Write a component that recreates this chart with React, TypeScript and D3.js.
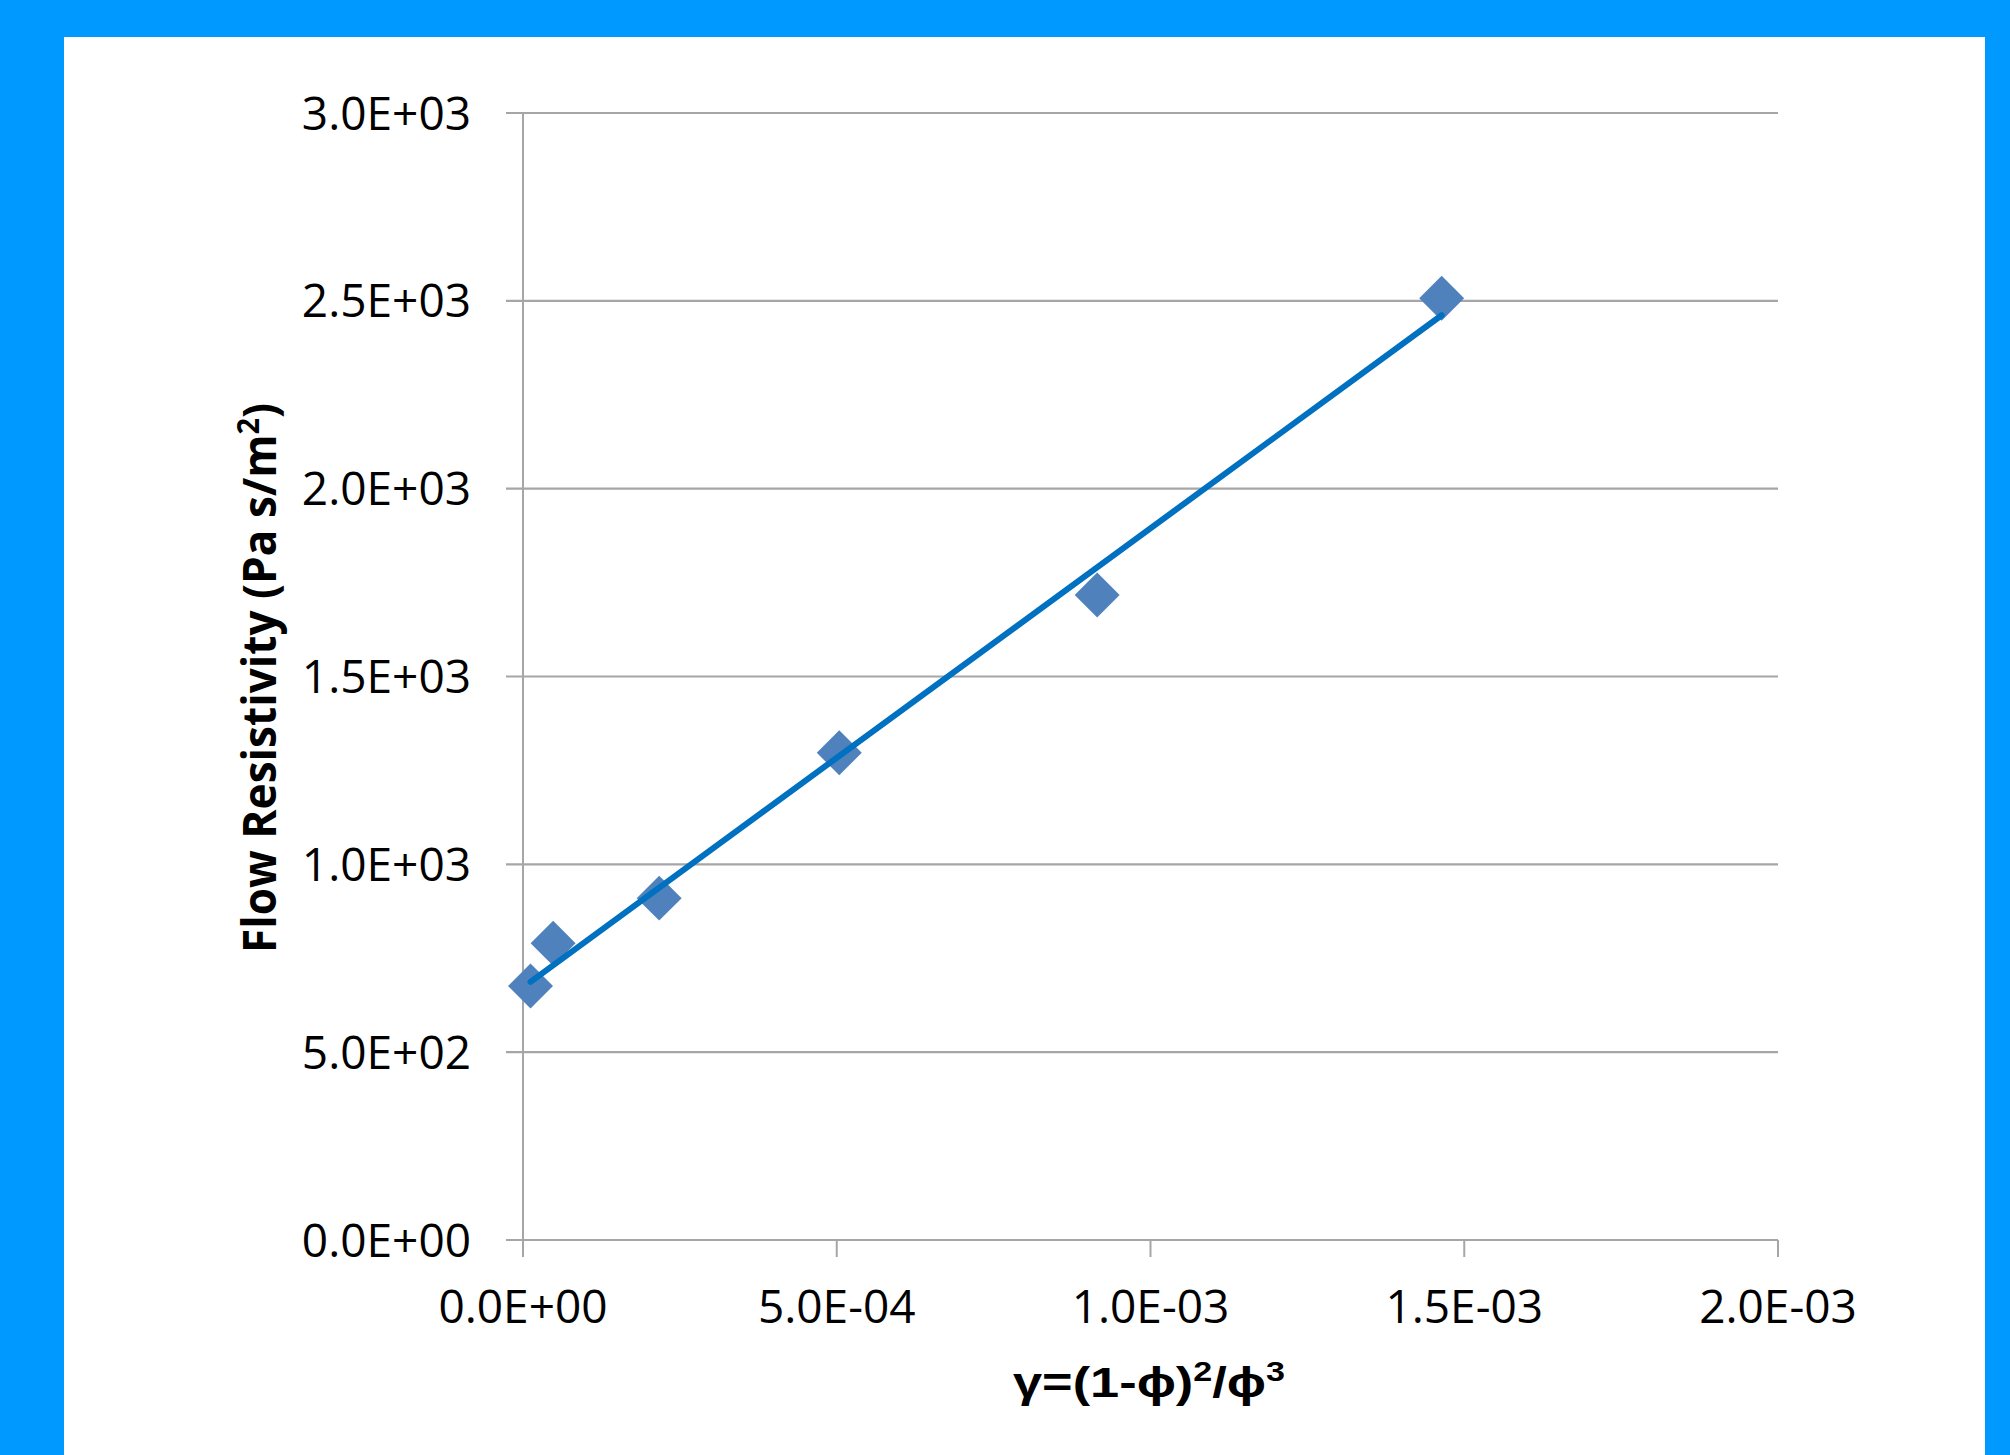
import React from "react";
import * as d3 from "d3";

const xValues = [0.000012, 0.000048, 0.000217, 0.000504, 0.000915, 0.001464];
const yValues = [676, 790, 910, 1297, 1717, 2507];
const xTicks = [0, 0.0005, 0.001, 0.0015, 0.002];
const xTickLabels = ["0.0E+00", "5.0E-04", "1.0E-03", "1.5E-03", "2.0E-03"];
const yTicks = [0, 500, 1000, 1500, 2000, 2500, 3000];
const yTickLabels = ["0.0E+00", "5.0E+02", "1.0E+03", "1.5E+03", "2.0E+03", "2.5E+03", "3.0E+03"];

const W = 2010;
const H = 1455;
const left = 523, right = 1778, top = 113, bottom = 1240;

export default function App() {
  const x = d3.scaleLinear().domain([0, 0.002]).range([left, right]);
  const y = d3.scaleLinear().domain([0, 3000]).range([bottom, top]);

  // least squares trendline
  const mx = d3.mean(xValues) as number;
  const my = d3.mean(yValues) as number;
  let sxy = 0, sxx = 0;
  xValues.forEach((v, i) => {
    sxy += (v - mx) * (yValues[i] - my);
    sxx += (v - mx) * (v - mx);
  });
  const slope = sxy / sxx;
  const intercept = my - slope * mx;
  const x0 = d3.min(xValues) as number;
  const x1 = d3.max(xValues) as number;
  const trend = d3.line<number>().x((d) => x(d)).y((d) => y(intercept + slope * d))([x0, x1]) as string;

  const diamond = d3.symbol().type(d3.symbolSquare).size(1010)() as string;
  const font = "'Open Sans', 'DejaVu Sans', sans-serif";
  const grid = "#A6A6A6";

  return (
    <svg width={W} height={H} style={{ position: "absolute", left: 0, top: 0 }}>
      <rect x={0} y={0} width={W} height={H} fill="#0099FF" />
      <rect x={64} y={37} width={1921} height={H - 37} fill="#FFFFFF" />
      {yTicks.map((t, i) => (
        <g key={"y" + i}>
          <line x1={left - 17} x2={right} y1={y(t)} y2={y(t)} stroke={grid} strokeWidth={2.2} />
          <text x={471} y={y(t)} dy="0.36em" textAnchor="end" fontFamily={font} fontSize={46} fill="#000">
            {yTickLabels[i]}
          </text>
        </g>
      ))}
      <line x1={left} x2={left} y1={top} y2={bottom + 17} stroke={grid} strokeWidth={2} />
      {xTicks.map((t, i) => (
        <g key={"x" + i}>
          <line x1={x(t)} x2={x(t)} y1={bottom} y2={bottom + 17} stroke={grid} strokeWidth={2} />
          <text x={x(t)} y={1323} textAnchor="middle" fontFamily={font} fontSize={46} fill="#000">
            {xTickLabels[i]}
          </text>
        </g>
      ))}
      {xValues.map((v, i) => (
        <path
          key={"p" + i}
          d={diamond}
          transform={`translate(${x(v)},${y(yValues[i])}) rotate(45)`}
          fill="#4F81BD"
        />
      ))}
      <path d={trend} stroke="#0070C0" strokeWidth={6} fill="none" strokeLinecap="round" />
      <text
        transform={`translate(276,678) rotate(-90)`}
        textAnchor="middle"
        fontFamily={font}
        fontWeight="bold"
        fontSize={46}
        fill="#000"
        textLength={550}
        lengthAdjust="spacingAndGlyphs"
      >
        Flow Resistivity (Pa s/m<tspan fontSize={30} dy={-17}>2</tspan><tspan dy={17}>)</tspan>
      </text>
      <text
        x={1149}
        y={1397}
        textAnchor="middle"
        fontFamily="'Liberation Sans', Arial, sans-serif"
        fontWeight="bold"
        fontSize={43}
        fill="#000"
        textLength={272}
        lengthAdjust="spacingAndGlyphs"
      >
        γ=(1-ϕ)<tspan fontSize={28} dy={-16}>2</tspan><tspan dy={16}>/ϕ</tspan><tspan fontSize={28} dy={-16}>3</tspan>
      </text>
    </svg>
  );
}
